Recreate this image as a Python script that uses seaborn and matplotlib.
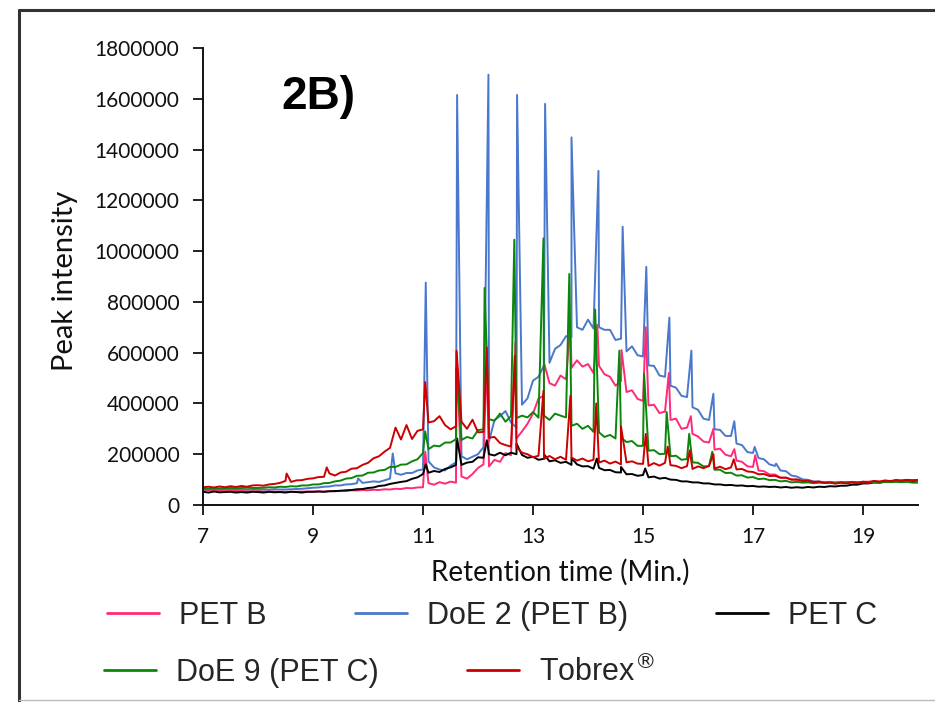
import numpy as np
import pandas as pd
import seaborn as sns
import matplotlib.pyplot as plt
from matplotlib.lines import Line2D

# Retention time grid (min) for the sampled traces
time_min = np.round(np.arange(70, 201) / 10, 1)

# Baseline traces, peak intensity in thousands of counts, one value per 0.1 min (7.0 - 20.0)
pet_b = [
    61, 60, 59, 58, 57, 56, 55, 55, 54, 54,
    54, 53, 53, 53, 52, 52, 52, 52, 53, 53,
    53, 54, 53, 55, 54, 56, 55, 58, 57, 59,
    58, 60, 59, 62, 61, 64, 63, 67, 66, 69,
    70, 86, 80, 90, 84, 92, 88, 112, 104, 122,
    146, 160, 152, 178, 170, 205, 196, 262, 290, 320,
    360, 420, 430, 480, 470, 510, 495, 540, 570, 545,
    555, 520, 548, 515, 505, 470, 488, 445, 452, 418,
    410, 392, 395, 362, 368, 335, 340, 300, 305, 280,
    270, 250, 246, 218, 222, 198, 192, 175, 170, 152,
    150, 136, 133, 120, 120, 108, 107, 100, 99, 94,
    94, 91, 92, 90, 91, 89, 91, 90, 91, 90,
    91, 92, 93, 92, 94, 95, 94, 96, 97, 96,
    97,
]
doe_2 = [
    59, 58, 60, 59, 60, 59, 60, 61, 60, 61,
    60, 61, 60, 62, 61, 61, 62, 63, 64, 66,
    68, 69, 72, 73, 77, 77, 81, 82, 86, 87,
    90, 93, 91, 97, 104, 125, 119, 126, 126, 136,
    140, 172, 148, 140, 136, 155, 168, 192, 180, 190,
    200, 228, 250, 335, 350, 370, 325, 305, 395, 420,
    490, 505, 550, 560, 615, 630, 665, 660, 700, 690,
    730, 695, 700, 690, 690, 650, 655, 605, 625, 590,
    585, 550, 548, 510, 505, 470, 462, 430, 425, 385,
    375, 340, 335, 298, 296, 272, 272, 242, 236, 208,
    205, 185, 180, 160, 154, 136, 133, 116, 112, 101,
    99, 93, 92, 89, 90, 87, 89, 88, 89, 87,
    89, 88, 91, 90, 93, 93, 96, 96, 99, 97,
    98,
]
pet_c = [
    52, 49, 53, 50, 51, 52, 49, 51, 49, 52,
    51, 49, 52, 50, 51, 49, 52, 51, 49, 52,
    52, 53, 52, 54, 55, 56, 58, 59, 62, 63,
    67, 69, 75, 77, 83, 87, 91, 94, 103, 109,
    122, 127, 134, 130, 142, 148, 158, 158, 167, 170,
    188, 186, 200, 195, 206, 196, 206, 200, 197, 186,
    190, 178, 182, 172, 176, 166, 170, 158, 160, 152,
    153, 143, 146, 137, 138, 129, 128, 121, 122, 115,
    118, 109, 112, 104, 107, 100, 99, 93, 93, 89,
    89, 85, 85, 81, 81, 78, 79, 76, 77, 74,
    75, 72, 73, 71, 72, 69, 71, 68, 70, 68,
    71, 69, 72, 71, 74, 73, 76, 76, 80, 80,
    85, 85, 89, 88, 92, 91, 94, 94, 97, 95,
    97,
]
doe_9 = [
    65, 64, 66, 65, 66, 67, 66, 67, 68, 67,
    67, 68, 70, 69, 72, 71, 74, 73, 77, 77,
    81, 81, 86, 87, 93, 96, 104, 106, 115, 116,
    127, 128, 136, 138, 150, 150, 159, 160, 172, 180,
    205, 220, 234, 231, 246, 246, 259, 256, 268, 262,
    295, 298, 338, 332, 360, 328, 350, 342, 352, 345,
    366, 344, 352, 335, 360, 352, 345, 312, 320, 300,
    312, 288, 286, 268, 276, 262, 265, 248, 252, 233,
    233, 214, 216, 200, 202, 192, 194, 178, 181, 168,
    166, 152, 153, 139, 139, 126, 127, 116, 117, 108,
    110, 102, 104, 98, 99, 93, 95, 89, 91, 88,
    89, 86, 88, 87, 89, 86, 89, 88, 89, 87,
    89, 88, 89, 88, 91, 90, 91, 90, 91, 88,
    88,
]
tobrex = [
    70, 72, 69, 73, 70, 74, 71, 75, 72, 77,
    78, 76, 81, 83, 87, 95, 91, 97, 98, 103,
    105, 110, 111, 124, 116, 128, 131, 143, 145, 158,
    166, 184, 192, 210, 225, 305, 258, 315, 260, 292,
    298, 325, 330, 350, 315, 298, 310, 328, 300, 336,
    286, 288, 265, 268, 244, 236, 230, 228, 206, 200,
    188, 194, 182, 193, 180, 190, 178, 187, 175, 183,
    172, 178, 167, 175, 163, 171, 160, 168, 172, 163,
    162, 154, 165, 155, 166, 157, 154, 145, 153, 142,
    152, 145, 154, 143, 151, 141, 148, 140, 142, 132,
    130, 121, 122, 114, 115, 107, 108, 100, 101, 95,
    96, 90, 92, 87, 88, 84, 88, 85, 90, 87,
    92, 89, 95, 92, 97, 94, 99, 96, 99, 97,
    98,
]

# Oligomer peaks: apex retention time (min) and apex intensity (thousands)
pet_b_peak_t = [11.04, 11.61, 12.16, 12.68, 13.20, 13.68, 14.17, 14.61, 15.05, 15.47, 15.87, 16.28, 16.66, 17.04]
pet_b_peak_y = [210, 600, 600, 640, 560, 720, 710, 610, 700, 520, 350, 300, 220, 196]
doe_2_peak_t = [9.82, 10.45, 11.05, 11.62, 12.19, 12.71, 13.22, 13.70, 14.19, 14.63, 15.06, 15.48, 15.88, 16.28, 16.66, 17.03, 17.42]
doe_2_peak_y = [105, 203, 876, 1615, 1695, 1615, 1580, 1448, 1316, 1096, 938, 738, 608, 438, 330, 229, 163]
pet_c_peak_t = [11.05, 11.62, 12.16, 12.70, 13.20, 13.70, 14.16, 14.60, 15.04]
pet_c_peak_y = [160, 262, 255, 242, 200, 185, 183, 150, 144]
doe_9_peak_t = [11.04, 11.60, 12.12, 12.66, 13.19, 13.66, 14.13, 14.57, 15.02, 15.43, 15.84, 16.26]
doe_9_peak_y = [290, 540, 855, 1045, 1050, 910, 770, 608, 516, 366, 280, 210]
tobrex_peak_t = [8.52, 9.25, 11.04, 11.61, 12.16, 12.67, 13.19, 13.68, 14.15, 14.60, 15.05, 15.45, 15.85, 16.28, 16.65]
tobrex_peak_y = [124, 148, 484, 608, 620, 588, 450, 430, 400, 310, 280, 230, 215, 200, 180]

labels = ["PET B", "DoE 2 (PET B)", "PET C", "DoE 9 (PET C)", "Tobrex®"]
colors = {
    "PET B": "#ff2a78",
    "DoE 2 (PET B)": "#4a78cc",
    "PET C": "#000000",
    "DoE 9 (PET C)": "#0a870a",
    "Tobrex®": "#cc0000",
}
traces = {
    "PET B": (pet_b, pet_b_peak_t, pet_b_peak_y),
    "DoE 2 (PET B)": (doe_2, doe_2_peak_t, doe_2_peak_y),
    "PET C": (pet_c, pet_c_peak_t, pet_c_peak_y),
    "DoE 9 (PET C)": (doe_9, doe_9_peak_t, doe_9_peak_y),
    "Tobrex®": (tobrex, tobrex_peak_t, tobrex_peak_y),
}

frames = []
for name, (base, pk_t, pk_y) in traces.items():
    t = np.concatenate([time_min, pk_t])
    y = np.concatenate([base, pk_y]) * 1000.0
    frames.append(pd.DataFrame({"time": t, "intensity": y, "sample": name}))
df = pd.concat(frames, ignore_index=True).sort_values(["sample", "time"])

sns.set_style("ticks")
plt.rcParams["font.family"] = ["Lato", "DejaVu Sans"]

fig = plt.figure(figsize=(9.35, 7.02), dpi=100)
ax = fig.add_axes([203 / 935, 1 - 505 / 702, 715 / 935, 457 / 702])

# draw order: later samples sit on top
draw_order = ["DoE 2 (PET B)", "PET B", "PET C", "DoE 9 (PET C)", "Tobrex®"]
sns.lineplot(data=df, x="time", y="intensity", hue="sample", hue_order=draw_order,
             palette=colors, estimator=None, sort=True, lw=1.4, legend=False, ax=ax)

ax.set_xlim(7, 20)
ax.set_ylim(0, 1800000)
ax.set_xticks([7, 9, 11, 13, 15, 17, 19])
ax.set_yticks(np.arange(0, 1800001, 200000))
ax.ticklabel_format(style="plain", axis="y", useOffset=False)
for s in ["top", "right"]:
    ax.spines[s].set_visible(False)
for s in ["left", "bottom"]:
    ax.spines[s].set_linewidth(1.4)
    ax.spines[s].set_color("#111111")
ax.tick_params(axis="both", direction="out", length=7, width=1.3, color="#111111",
               labelsize=15, labelcolor="#111111")
ax.tick_params(axis="y", pad=10)
ax.tick_params(axis="x", pad=9)

ax.set_xlabel("Retention time (Min.)", fontsize=20, color="#111111")
ax.set_ylabel("Peak intensity", fontsize=21, color="#111111")
ax.xaxis.set_label_coords(0.5, -0.118)
ax.yaxis.set_label_coords(-0.175, 0.49)

fig.text(318 / 935, 1 - 97 / 702, "2B)", ha="center", va="center", fontsize=33,
         fontweight="bold", family=["Liberation Sans", "DejaVu Sans"], color="#000000")

# Legend in two rows
def handle(name):
    return Line2D([0], [0], color=colors[name], lw=2.0)

legend_text = {"PET B": "PET B", "DoE 2 (PET B)": "DoE 2 (PET B)", "PET C": "PET C",
               "DoE 9 (PET C)": "DoE 9 (PET C)", "Tobrex®": r"Tobrex$^{\circledR}$"}
leg_font = {"family": ["Liberation Sans", "DejaVu Sans"], "size": 22}
rows = [(labels[:3], 107, 616), (labels[3:], 104, 672)]
for names, x0, yc in rows:
    fig.legend([handle(n) for n in names], [legend_text[n] for n in names],
               ncol=len(names), loc="center left", bbox_to_anchor=(x0 / 935, 1 - yc / 702),
               frameon=False, prop=leg_font, handlelength=1.7, handletextpad=0.65,
               columnspacing=2.9, borderpad=0, borderaxespad=0)

# Outer frame
fig.add_artist(Line2D([19 / 935, 19 / 935], [0, 1 - 10 / 702], transform=fig.transFigure,
                      color="#333333", lw=2.2))
fig.add_artist(Line2D([19 / 935, 1], [1 - 10 / 702, 1 - 10 / 702], transform=fig.transFigure,
                      color="#333333", lw=2.2))
fig.add_artist(Line2D([19 / 935, 1], [1 - 700 / 702, 1 - 700 / 702], transform=fig.transFigure,
                      color="#bbbbbb", lw=1.0))

fig.savefig("out.png", dpi=100)
